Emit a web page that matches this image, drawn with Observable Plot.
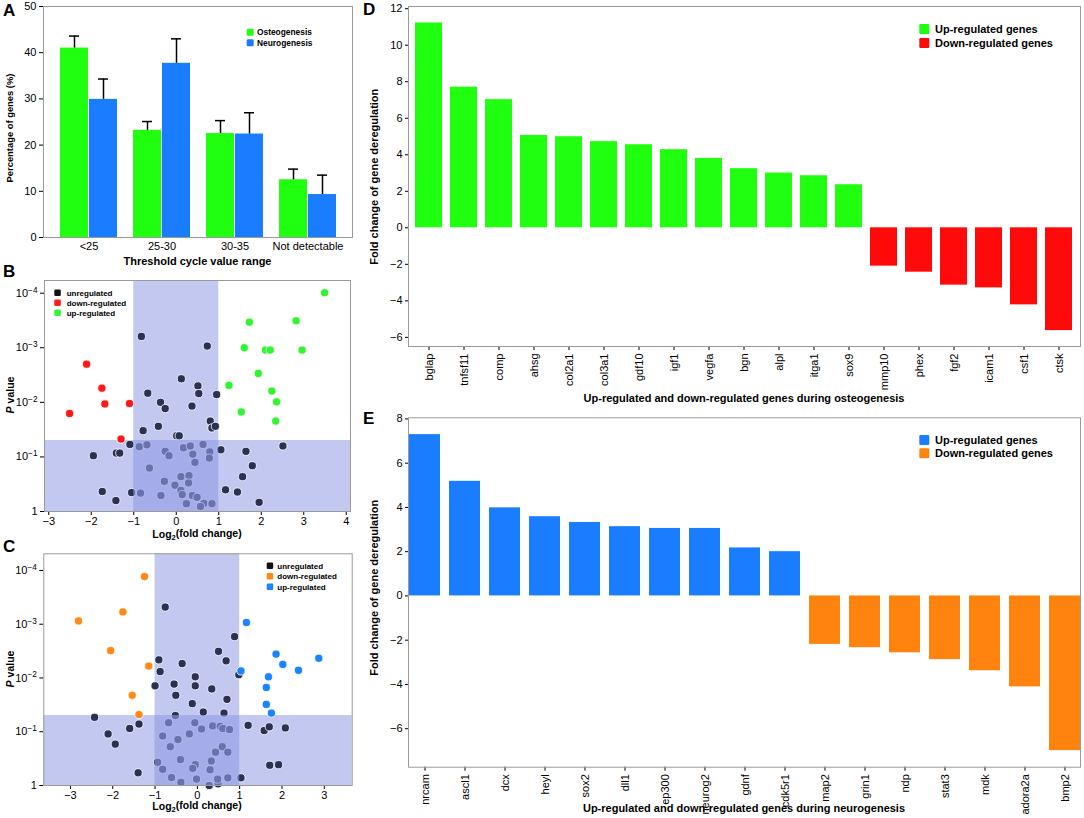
<!DOCTYPE html>
<html><head><meta charset="utf-8">
<script src="https://cdn.jsdelivr.net/npm/d3@7"></script>
<script src="https://cdn.jsdelivr.net/npm/@observablehq/plot@0.6"></script>
<style>
body{margin:0;background:#fff;}
#fig{position:relative;width:1084px;height:818px;overflow:hidden;background:#fff;}
</style></head><body><div id="fig"></div>
<script>
// ---------- Panel A data ----------
const ctRanges = ["<25", "25-30", "30-35", "Not detectable"];
const osteoPct = [41.0, 23.2, 22.5, 12.5];
const osteoErr = [2.6, 1.9, 2.8, 2.3];
const neuroPct = [29.9, 37.7, 22.4, 9.3];
const neuroErr = [4.4, 5.3, 4.6, 4.2];

// ---------- Panel B data (osteogenesis volcano): [log2 fold change, P value] ----------
const osteoUp = [[3.49,9.8e-5],[1.72,3.4e-4],[2.82,3.2e-4],[1.60,1.0e-3],[2.10,1.1e-3],[2.21,1.1e-3],[2.96,1.1e-3],[1.93,2.95e-3],[1.24,4.9e-3],[2.25,6.2e-3],[2.36,9.8e-3],[1.53,1.5e-2],[2.34,2.2e-2]];
const osteoDown = [[-2.11,2.0e-3],[-1.75,5.5e-3],[-1.68,1.07e-2],[-2.51,1.6e-2],[-1.10,1.05e-2],[-1.30,4.7e-2]];
const osteoUnreg = [[-0.82,6.2e-4],[0.73,9.3e-4],[0.12,3.7e-3],[0.51,5.0e-3],[0.53,6.9e-3],[0.95,7.2e-3],[-0.67,6.8e-3],[-0.37,1.0e-2],[-0.26,1.3e-2],[0.37,1.17e-2],[0.80,2.2e-2],[0.84,2.95e-2],[0.92,2.75e-2],[-0.42,2.75e-2],[-0.78,3.3e-2],[0.01,4.1e-2],[0.07,4.1e-2],[-1.09,5.9e-2],[-1.41,8.5e-2],[-1.33,8.5e-2],[-1.95,9.5e-2],[1.05,7.4e-2],[1.64,7.9e-2],[2.51,6.3e-2],[1.79,0.145],[1.56,0.23],[1.16,0.40],[1.44,0.44],[1.95,0.68],[-1.74,0.43],[-1.42,0.63],[-1.05,0.45],
  [-0.87,0.065],[-0.69,0.060],[-0.63,0.16],[-0.26,0.079],[-0.17,0.095],[0.17,0.068],[0.33,0.063],[0.39,0.089],[0.63,0.059],[0.79,0.081],[0.78,0.105],[0.44,0.126],[0.11,0.23],[0.30,0.22],[0.29,0.30],[-0.28,0.28],[-0.03,0.33],[0.11,0.41],[0.14,0.49],[-0.84,0.46],[-0.36,0.51],[0.38,0.51],[0.49,0.55],[0.24,0.72],[0.65,0.71],[0.57,0.81],[0.84,0.72]];

// ---------- Panel C data (neurogenesis volcano) ----------
const neuroDown = [[-1.25,1.3e-4],[-1.76,5.9e-4],[-2.81,8.7e-4],[-2.05,3.1e-3],[-1.15,6.0e-3],[-1.54,2.1e-2],[-1.38,4.8e-2]];
const neuroUp = [[1.16,9.3e-4],[1.86,3.6e-3],[2.87,4.3e-3],[2.02,5.6e-3],[2.39,7.2e-3],[1.03,7.4e-3],[1.68,9.5e-3],[1.63,1.5e-2],[1.63,3.1e-2],[1.75,4.5e-2]];
const neuroUnreg = [[-0.76,4.8e-4],[0.88,1.7e-3],[0.50,3.2e-3],[0.68,4.8e-3],[-0.91,4.6e-3],[-0.88,7.6e-3],[-0.36,5.4e-3],[-0.05,9.5e-3],[0.98,8.7e-3],[-1.00,1.4e-2],[-0.55,1.3e-2],[-0.05,1.4e-2],[0.34,1.6e-2],[-0.51,2.1e-2],[-0.12,3.0e-2],[0.70,2.5e-2],[0.14,4.3e-2],[0.63,4.5e-2],[-0.52,5.0e-2],[-2.43,5.4e-2],[-1.60,8.7e-2],[-1.38,7.2e-2],[-2.11,0.11],[-1.94,0.17],[-1.40,0.58],[1.20,7.6e-2],[1.58,9.5e-2],[1.70,8.1e-2],[2.08,8.5e-2],[1.71,0.42],[1.92,0.41],[1.03,0.72],[0.28,1.0],[0.49,0.93],
  [-0.68,0.068],[-0.82,0.12],[-0.64,0.19],[-0.46,0.14],[-0.06,0.068],[-0.19,0.11],[0.10,0.089],[0.36,0.078],[0.54,0.079],[0.60,0.087],[0.76,0.091],[0.43,0.24],[0.59,0.19],[0.72,0.24],[-0.40,0.33],[-0.94,0.37],[-0.05,0.41],[-0.11,0.48],[0.33,0.35],[-0.82,0.50],[0.30,0.51],[-0.61,0.71],[-0.39,0.87],[-0.02,0.76],[0.48,0.76],[0.72,0.72]];
const foldCut = [-1, 1];     // log2 fold-change thresholds
const pCut = 0.05;           // significance threshold

// ---------- Panel D data ----------
const osteoGenes = ["bglap","tnfsf11","comp","ahsg","col2a1","col3a1","gdf10","igf1","vegfa","bgn","alpl","itga1","sox9","mmp10","phex","fgf2","icam1","csf1","ctsk"];
const osteoFold = [11.22,7.70,7.02,5.06,4.99,4.72,4.55,4.28,3.80,3.24,3.00,2.85,2.36,-2.10,-2.43,-3.14,-3.29,-4.22,-5.63];

// ---------- Panel E data ----------
const neuroGenes = ["nrcam","ascl1","dcx","heyl","sox2","dll1","ep300","neurog2","gdnf","cdk5r1","map2","grin1","ndp","stat3","mdk","adora2a","bmp2"];
const neuroFold = [7.29,5.18,3.98,3.58,3.32,3.13,3.05,3.05,2.17,2.00,-2.19,-2.34,-2.57,-2.88,-3.38,-4.11,-6.99];

// ---------- helpers ----------
const FONT = '"Liberation Sans", Arial, Helvetica, sans-serif';
const fig = document.getElementById("fig");
const baseStyle = {fontFamily: FONT, fontSize: "11px", background: "transparent", overflow: "visible", color: "black"};
const C = {green:"#20ff10", blue:"#1a7dff", red:"#ff0a0a", orange:"#ff840f", dark:"#2b3152",
  vGreen:"#30f530", vRed:"#ff1a1a", vOrange:"#ff8a1a", vBlue:"#1a85ff", band:"#c2c8f0", overlap:"#929be6", frame:"#9a9a9a"};

function place(svg, left, top) {
  svg.style.position = "absolute"; svg.style.left = left + "px"; svg.style.top = top + "px";
  svg.style.maxWidth = "none";
  fig.appendChild(svg); return svg;
}
function title(svg, txt, x, y, rotate, size) {
  const t = d3.select(svg).append("text").attr("text-anchor","middle").attr("dy","0.35em")
    .attr("font-weight","bold").attr("font-size", size).attr("fill","black").attr("font-family", FONT);
  if (rotate) t.attr("transform", `translate(${x},${y}) rotate(-90)`); else t.attr("x", x).attr("y", y);
  if (typeof txt === "string") t.text(txt); else txt(t);
  return t;
}
function legend(svg, items, x, ys, size, tx, fs) {
  const g = d3.select(svg).append("g").attr("font-family", FONT).attr("text-anchor", "start");
  items.forEach((it, i) => {
    g.append("rect").attr("x", x).attr("y", ys[i] - size/2).attr("width", size).attr("height", size).attr("rx", 1.3).attr("fill", it[1]);
    g.append("text").attr("x", tx).attr("y", ys[i]).attr("dy","0.35em").attr("text-anchor","start").attr("font-weight","bold").attr("font-size", fs).attr("fill","black").text(it[0]);
  });
}
function supTicks(svg) {
  d3.select(svg).selectAll("text").each(function() {
    const m = this.textContent.match(/^10\^(.+)$/);
    if (m) { const s = d3.select(this); s.text("10"); s.append("tspan").attr("dy","-0.5em").attr("font-size","0.75em").text(m[1]); }
  });
}
const logFmt = d => d === 1 ? "1" : "10^\u2212" + Math.round(-Math.log10(d));
const logLabel = t => { t.append("tspan").text("Log"); t.append("tspan").attr("dy","0.3em").attr("font-size","0.72em").text("2"); t.append("tspan").attr("dy","-0.3em").text("(fold change)"); };
const pLabel = t => { t.append("tspan").attr("font-style","italic").text("P"); t.append("tspan").text(" value"); };

// ---------- Panel A ----------
const osteoRows = ctRanges.map((r, i) => ({range: r, value: osteoPct[i], upper: osteoPct[i] + osteoErr[i]}));
const neuroRows = ctRanges.map((r, i) => ({range: r, value: neuroPct[i], upper: neuroPct[i] + neuroErr[i]}));
const svgA = place(Plot.plot({
  width: 360, height: 270, marginLeft: 43, marginRight: 8, marginTop: 6, marginBottom: 33,
  style: baseStyle,
  x: {domain: ctRanges, paddingInner: 0.222, paddingOuter: 0.219, tickSize: 0, tickPadding: 5, label: null},
  y: {domain: [0, 50], ticks: [0,10,20,30,40,50], tickSize: 4, tickPadding: 3, label: null},
  marks: [
    Plot.barY(osteoRows, {x: "range", y: "value", fill: C.green, insetRight: 29}),
    Plot.barY(neuroRows, {x: "range", y: "value", fill: C.blue, insetLeft: 29}),
    Plot.ruleX(osteoRows, {x: "range", y1: "value", y2: "upper", dx: -14.5, stroke: "black", strokeWidth: 1.5}),
    Plot.ruleX(neuroRows, {x: "range", y1: "value", y2: "upper", dx: 14.5, stroke: "black", strokeWidth: 1.5}),
    Plot.tickY(osteoRows, {x: "range", y: "upper", insetLeft: 9, insetRight: 38, stroke: "black", strokeWidth: 1.5}),
    Plot.tickY(neuroRows, {x: "range", y: "upper", insetLeft: 38, insetRight: 9, stroke: "black", strokeWidth: 1.5}),
    Plot.frame({stroke: C.frame})
  ]
}), 0, 0);
title(svgA, "Percentage of genes (%)", 10, 128, true, "9.4px");
title(svgA, "Threshold cycle value range", 197.5, 261, false, "11px");
legend(svgA, [["Osteogenesis", C.green], ["Neurogenesis", C.blue]], 246.7, [32.3, 42.7], 7, 257, "8.4px");

// ---------- volcano helper ----------
function volcano(o) {
  const toObj = a => a.map(d => ({fc: d[0], p: d[1]}));
  const [x0, x1] = o.xDomain, [yBot, yTop] = o.yDomain;
  const dotOpts = {x: "fc", y: "p", r: 4.1, stroke: "white", strokeWidth: 0.8};
  return Plot.plot({
    width: 360, height: o.height, marginLeft: o.ml, marginRight: o.mr, marginTop: o.mt, marginBottom: o.mb,
    style: baseStyle,
    x: {domain: o.xDomain, ticks: o.xTicks, tickSize: 4, tickPadding: 2, label: null},
    y: {type: "log", domain: o.yDomain, ticks: [1e-4, 1e-3, 1e-2, 1e-1, 1], tickFormat: logFmt, tickSize: 4, tickPadding: 3, label: null},
    marks: [
      Plot.rect([{a: x0, b: x1, c: yBot, d: pCut}], {x1: "a", x2: "b", y1: "c", y2: "d", fill: C.band}),
      Plot.rect([{a: foldCut[0], b: foldCut[1], c: yBot, d: yTop}], {x1: "a", x2: "b", y1: "c", y2: "d", fill: C.band}),
      Plot.dot(toObj(o.unreg), {...dotOpts, fill: C.dark}),
      Plot.dot(toObj(o.down), {...dotOpts, fill: o.downColor}),
      Plot.dot(toObj(o.up), {...dotOpts, fill: o.upColor}),
      Plot.rect([{a: foldCut[0], b: foldCut[1], c: yBot, d: pCut}], {x1: "a", x2: "b", y1: "c", y2: "d", fill: C.overlap, fillOpacity: 0.62}),
      Plot.frame({stroke: C.frame})
    ]
  });
}

// ---------- Panel B ----------
const svgB = place(volcano({height: 272, ml: 44, mr: 10, mt: 10, mb: 31,
  xDomain: [-3.1, 4.1], xTicks: [-3,-2,-1,0,1,2,3,4], yDomain: [1, 5.85e-5],
  unreg: osteoUnreg, down: osteoDown, up: osteoUp, downColor: C.vRed, upColor: C.vGreen}), 0, 270);
supTicks(svgB);
title(svgB, pLabel, 10, 125, true, "10.5px");
title(svgB, logLabel, 197, 264, false, "10.5px");
legend(svgB, [["unregulated", "#111"], ["down-regulated", C.vRed], ["up-regulated", C.vGreen]], 54.3, [22.7, 32.7, 42.7], 6.5, 66.7, "8px");

// ---------- Panel C ----------
const svgC = place(volcano({height: 278, ml: 43.3, mr: 8.3, mt: 13.3, mb: 33,
  xDomain: [-3.63, 3.66], xTicks: [-3,-2,-1,0,1,2,3], yDomain: [1, 4.9e-5],
  unreg: neuroUnreg, down: neuroDown, up: neuroUp, downColor: C.vOrange, upColor: C.vBlue}), 0, 540);
supTicks(svgC);
title(svgC, pLabel, 10, 129, true, "10.5px");
title(svgC, logLabel, 197, 266.5, false, "10.5px");
legend(svgC, [["unregulated", "#111"], ["down-regulated", C.vOrange], ["up-regulated", C.vBlue]], 266.7, [25.7, 36.3, 46.7], 6.5, 277.3, "8px");

// ---------- fold-change bar helper ----------
function foldBars(o) {
  const rows = o.genes.map((g, i) => ({gene: g, fc: o.fold[i]}));
  return Plot.plot({
    width: 724, height: o.height, marginLeft: 48, marginRight: 4, marginTop: o.mt, marginBottom: o.mb,
    style: baseStyle,
    x: {domain: o.genes, paddingInner: o.pad, paddingOuter: 0, tickRotate: -90, tickSize: 4, tickPadding: 3, label: null},
    y: {domain: o.yDomain, ticks: o.yTicks, tickSize: 3, tickPadding: 3, label: null},
    marks: [
      Plot.barY(rows.filter(d => d.fc > 0), {x: "gene", y: "fc", fill: o.upColor}),
      Plot.barY(rows.filter(d => d.fc < 0), {x: "gene", y: "fc", fill: o.downColor}),
      Plot.frame({stroke: C.frame})
    ]
  });
}

// ---------- Panel D ----------
const svgD = place(foldBars({genes: osteoGenes, fold: osteoFold, height: 410, mt: 6, mb: 64, pad: 0.22,
  yDomain: [-6.5, 12.12], yTicks: [-6,-4,-2,0,2,4,6,8,10,12], upColor: C.green, downColor: C.red}), 360, 0);
title(svgD, "Fold change of gene deregulation", 14, 176.7, true, "11px");
title(svgD, "Up-regulated and down-regulated genes during osteogenesis", 384, 398, false, "11px");
legend(svgD, [["Up-regulated genes", C.green], ["Down-regulated genes", C.red]], 559.3, [29, 43], 10, 575, "11px");

// ---------- Panel E ----------
const svgE = place(foldBars({genes: neuroGenes, fold: neuroFold, height: 408, mt: 7.3, mb: 51.3, pad: 0.228,
  yDomain: [-7.74, 8.05], yTicks: [-6,-4,-2,0,2,4,6,8], upColor: C.blue, downColor: C.orange}), 360, 410);
title(svgE, "Fold change of gene deregulation", 14, 177.7, true, "11px");
title(svgE, "Up-regulated and down-regulated genes during neurogenesis", 384, 398.3, false, "11px");
legend(svgE, [["Up-regulated genes", C.blue], ["Down-regulated genes", C.orange]], 559.3, [30, 43.3], 10, 575, "11px");

// ---------- panel letters ----------
const over = d3.select(fig).append("svg").attr("width", 1084).attr("height", 818)
  .style("position","absolute").style("left","0px").style("top","0px").style("pointer-events","none");
[["A",3,16],["B",3,277],["C",3,552],["D",363,15],["E",363,424]].forEach(([t,x,y]) =>
  over.append("text").attr("x", x).attr("y", y).attr("font-family", FONT).attr("font-weight","bold").attr("font-size","17px").text(t));
</script></body></html>
